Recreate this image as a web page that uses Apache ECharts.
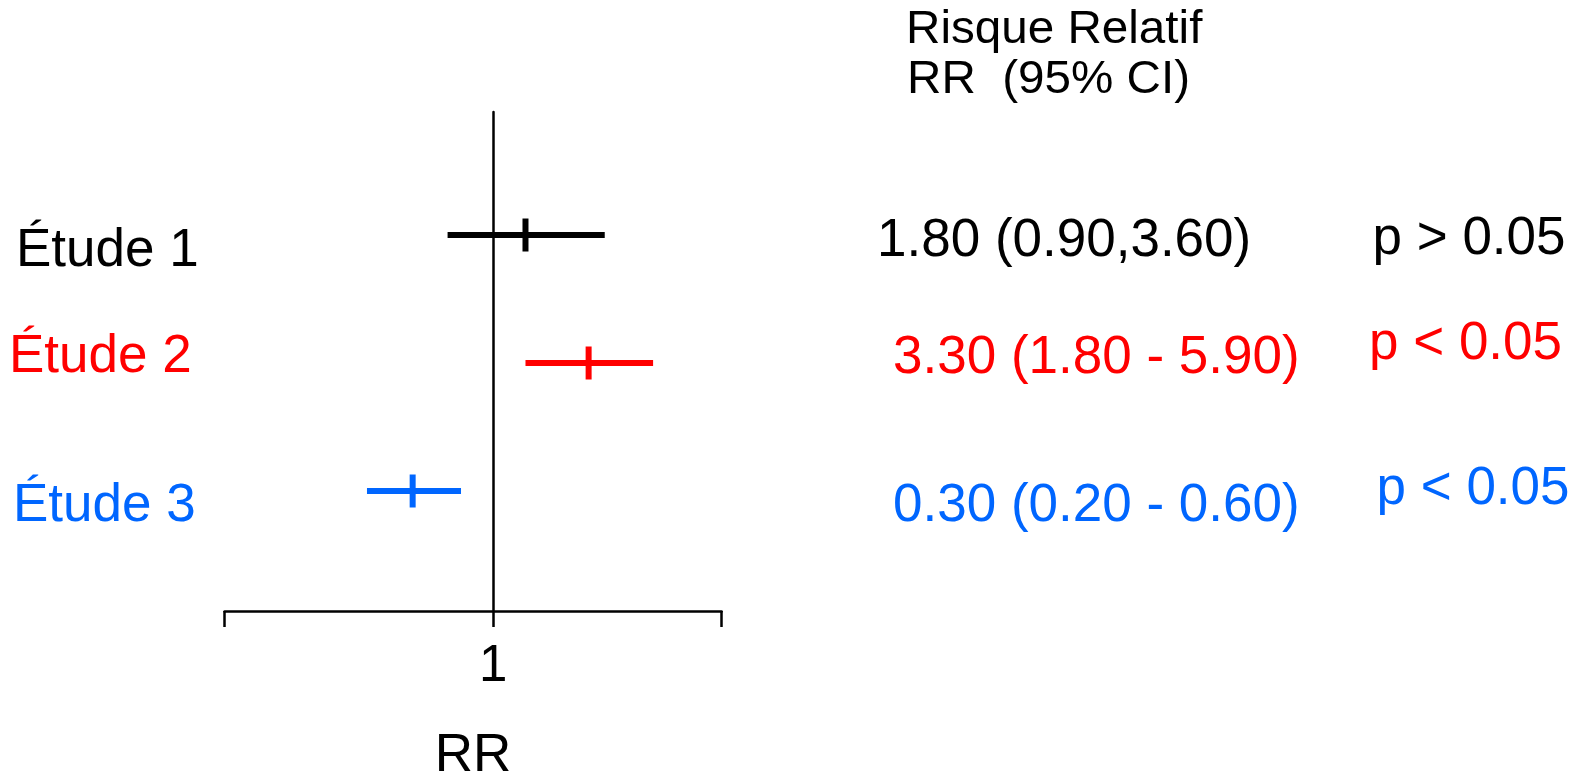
<!DOCTYPE html>
<html>
<head>
<meta charset="utf-8">
<script src="https://cdn.jsdelivr.net/npm/echarts@6/dist/echarts.min.js"></script>
<style>
html,body{margin:0;padding:0;background:#fff;}
#chart{width:1591px;height:776px;}
</style>
</head>
<body>
<div id="chart"></div>
<script>
// ---- data ----
const studies = ['Étude 1', 'Étude 2', 'Étude 3'];
const rowPos = [1, 2, 3];
// plotted positions on the (schematic) RR axis, where 0 marks RR = 1
const ciLow = [-0.17, 0.12, -0.47];
const ciPoint = [0.12, 0.355, -0.30];
const ciHigh = [0.415, 0.595, -0.12];
const rrText = ['1.80 (0.90,3.60)', '3.30 (1.80 - 5.90)', '0.30 (0.20 - 0.60)'];
const pText = ['p > 0.05', 'p < 0.05', 'p < 0.05'];
const xTickValues = [-1, 0, 0.85];
const xLabelValues = [0];
const xLabelText = { 0: '1' };
const titleLines = ['Risque Relatif', 'RR  (95% CI)'];
const axisName = 'RR';

// ---- styles / layout ----
const colors = ['#000000', '#FF0000', '#0066FF'];
const FONT = "'Liberation Sans', Arial, Helvetica, sans-serif";
const leftLabelPos = [[16, 251], [9, 357.5], [13, 506]];
const rrTextPos = [[877, 241], [893, 358.5], [893, 506.75]];
const pTextPos = [[1372.5, 239], [1369, 344], [1376.5, 489]];
const titlePos = [[906, 30], [907, 80.25]];

const chart = echarts.init(document.getElementById('chart'));

const graphics = [];
studies.forEach((s, i) => {
  graphics.push({ type: 'text', x: leftLabelPos[i][0], y: leftLabelPos[i][1],
    style: { text: s, fill: colors[i], font: '53px ' + FONT, textAlign: 'left', textVerticalAlign: 'middle' } });
  graphics.push({ type: 'text', x: rrTextPos[i][0], y: rrTextPos[i][1],
    style: { text: rrText[i], fill: colors[i], font: '53px ' + FONT, textAlign: 'left', textVerticalAlign: 'middle' } });
  graphics.push({ type: 'text', x: pTextPos[i][0], y: pTextPos[i][1],
    style: { text: pText[i], fill: colors[i], font: '53px ' + FONT, textAlign: 'left', textVerticalAlign: 'middle' } });
});
titleLines.forEach((t, i) => {
  graphics.push({ type: 'text', x: titlePos[i][0], y: titlePos[i][1], scaleX: 1.035, scaleY: 1,
    style: { text: t, fill: '#000', font: '46px ' + FONT, textAlign: 'left', textVerticalAlign: 'middle' } });
});

const seriesData = studies.map((s, i) => ({
  value: [ciLow[i], ciPoint[i], ciHigh[i], rowPos[i]],
  itemStyle: { color: colors[i] }
}));

chart.setOption({
  animation: false,
  backgroundColor: '#fff',
  grid: { left: 224.6, right: 869.4, top: 112, bottom: 165, containLabel: false, outerBoundsMode: 'none' },
  xAxis: {
    type: 'value', min: -1, max: 0.85, interval: 1,
    axisLine: { show: true, onZero: false, lineStyle: { color: '#000', width: 2.5 } },
    axisTick: { show: true, length: 16, inside: false, customValues: xTickValues, lineStyle: { color: '#000', width: 2.5 } },
    axisLabel: { show: true, customValues: xLabelValues, margin: 30,
      formatter: v => (xLabelText[v] !== undefined ? xLabelText[v] : ''),
      color: '#000', fontSize: 51, lineHeight: 51, fontFamily: FONT },
    splitLine: { show: false },
    name: axisName, nameLocation: 'middle', nameGap: 119,
    nameTextStyle: { color: '#000', fontSize: 53, lineHeight: 53, fontFamily: FONT }
  },
  yAxis: {
    type: 'value', inverse: true, min: 0.039, max: 3.9375,
    axisLine: { show: true, onZero: true, lineStyle: { color: '#000', width: 2.5 } },
    axisTick: { show: false }, axisLabel: { show: false }, splitLine: { show: false }
  },
  series: [{
    type: 'custom',
    data: seriesData,
    renderItem: function (params, api) {
      const row = api.value(3);
      const lo = api.coord([api.value(0), row]);
      const pt = api.coord([api.value(1), row]);
      const hi = api.coord([api.value(2), row]);
      const c = api.visual('color');
      return { type: 'group', children: [
        { type: 'line', shape: { x1: lo[0], y1: lo[1], x2: hi[0], y2: hi[1] }, style: { stroke: c, lineWidth: 6, lineCap: 'butt' } },
        { type: 'line', shape: { x1: pt[0], y1: pt[1] - 16.5, x2: pt[0], y2: pt[1] + 16.5 }, style: { stroke: c, lineWidth: 6, lineCap: 'butt' } }
      ] };
    },
    z: 3
  }],
  graphic: graphics
});
</script>
</body>
</html>
